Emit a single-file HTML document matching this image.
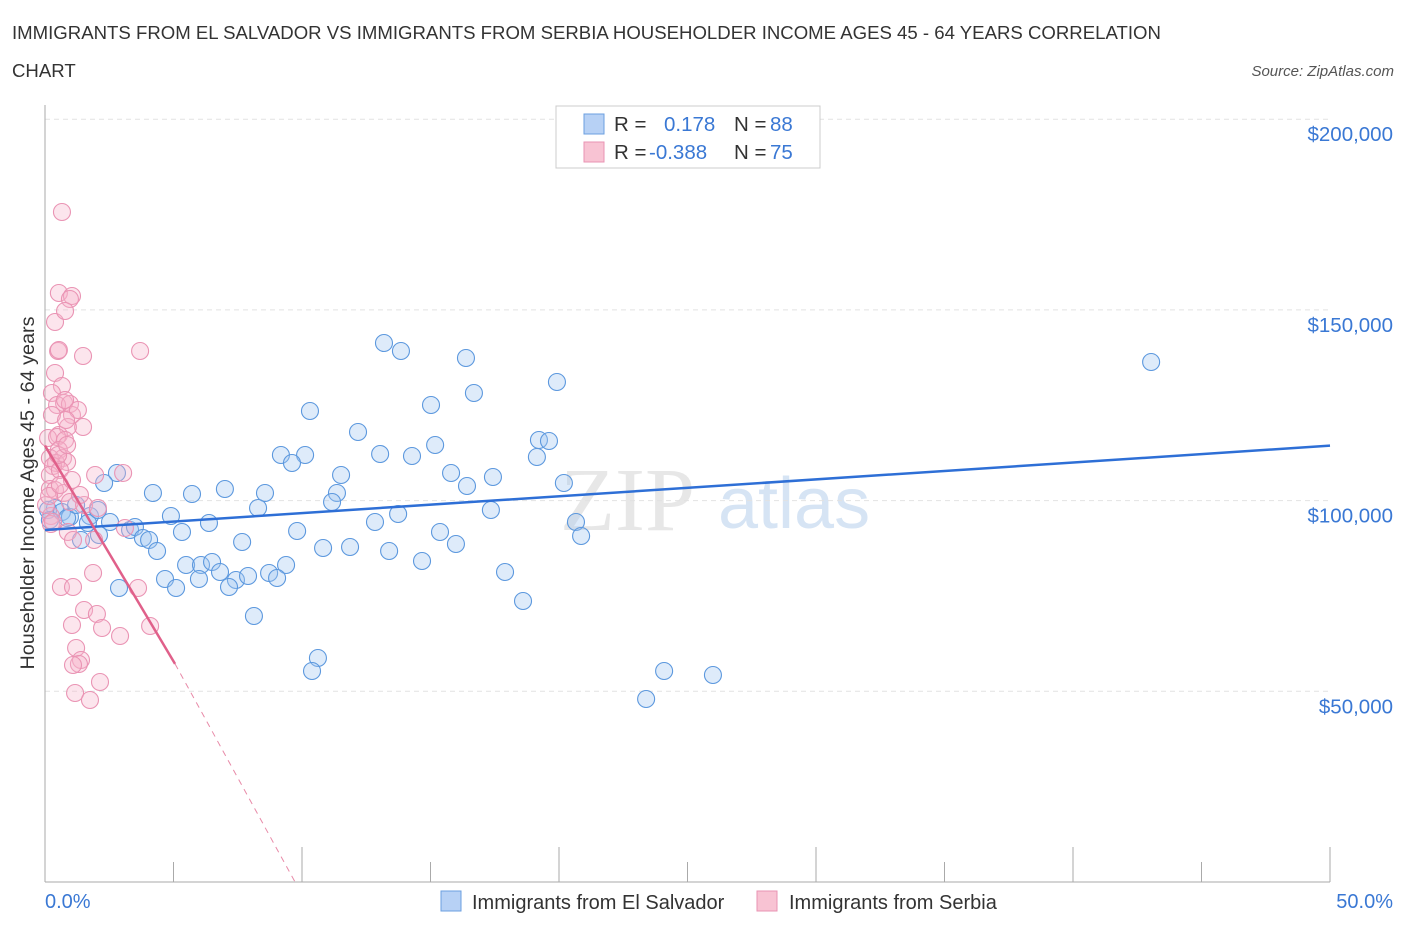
<!DOCTYPE html>
<html><head><meta charset="utf-8"><style>
body{margin:0;background:#fff;font-family:"Liberation Sans",sans-serif}
svg{display:block}
</style></head><body>
<svg id="c" width="1406" height="930" xmlns="http://www.w3.org/2000/svg">
<text x="12" y="39" font-size="18.6" fill="#333">IMMIGRANTS FROM EL SALVADOR VS IMMIGRANTS FROM SERBIA HOUSEHOLDER INCOME AGES 45 - 64 YEARS CORRELATION</text>
<text x="12" y="77" font-size="18.6" fill="#333">CHART</text>
<text x="1394" y="76" font-size="15" fill="#555" font-style="italic" text-anchor="end">Source: ZipAtlas.com</text>
<text x="560" y="530" font-size="90" fill="#d8d8d8" font-family="Liberation Serif" opacity="0.6">ZIP</text>
<text x="718" y="528" font-size="72" fill="#bcd3ee" opacity="0.6">atlas</text>
<g id="grid"></g>
<g id="axes"></g>
<g id="pts"></g>
<g id="trend"></g>
<text transform="translate(34,493) rotate(-90)" font-size="19.8" fill="#333" text-anchor="middle">Householder Income Ages 45 - 64 years</text>
<text x="45" y="908" font-size="20" fill="#3a78d4">0.0%</text>
<text x="1393" y="908" font-size="20" fill="#3a78d4" text-anchor="end">50.0%</text>
<g>
<rect x="556" y="106" width="264" height="62" fill="#fff" stroke="#ccc"/>
<rect x="584" y="114" width="20" height="20" fill="#b7d1f5" stroke="#6b9fe0"/>
<rect x="584" y="142" width="20" height="20" fill="#f8c3d3" stroke="#e993b3"/>
<text x="614" y="131" font-size="20.5" fill="#333">R =</text>
<text x="664" y="131" font-size="20.5" fill="#3a78d4">0.178</text>
<text x="734" y="131" font-size="20.5" fill="#333">N =</text>
<text x="770" y="131" font-size="20.5" fill="#3a78d4">88</text>
<text x="614" y="159" font-size="20.5" fill="#333">R =</text>
<text x="649" y="159" font-size="20.5" fill="#3a78d4">-0.388</text>
<text x="734" y="159" font-size="20.5" fill="#333">N =</text>
<text x="770" y="159" font-size="20.5" fill="#3a78d4">75</text>
</g>
<g>
<rect x="441" y="891" width="20" height="20" fill="#b7d1f5" stroke="#6b9fe0"/>
<text x="472" y="909" font-size="20" fill="#333">Immigrants from El Salvador</text>
<rect x="757" y="891" width="20" height="20" fill="#f8c3d3" stroke="#e993b3"/>
<text x="789" y="909" font-size="20" fill="#333">Immigrants from Serbia</text>
</g>
</svg>
<script>
const yTicks=[50000,100000,150000,200000];
const yTickLabels=["$50,000","$100,000","$150,000","$200,000"];
const xTicks=[0,5,10,15,20,25,30,35,40,45,50];
const bluePx=[[1151,362],[384,343],[401,351],[466,358],[557,382],[474,393],[431,405],[310,411],[358,432],[539,440],[549,441],[435,445],[281,455],[305,455],[380,454],[412,456],[292,463],[537,457],[451,473],[341,475],[493,477],[467,486],[117,473],[564,483],[104,483],[225,489],[265,493],[153,493],[192,494],[337,493],[332,502],[258,508],[398,514],[491,510],[55,508],[48,510],[62,512],[70,517],[90,516],[88,523],[110,522],[67,518],[375,522],[171,516],[209,523],[576,522],[130,530],[135,527],[297,531],[440,532],[581,536],[99,535],[143,538],[149,540],[81,540],[182,532],[242,542],[323,548],[350,547],[389,551],[456,544],[157,551],[186,565],[201,565],[212,562],[220,572],[286,565],[165,579],[176,588],[199,579],[236,580],[248,576],[269,573],[277,578],[229,587],[422,561],[505,572],[119,588],[523,601],[254,616],[318,658],[312,671],[664,671],[713,675],[646,699],[98,510],[76,505],[50,520]];
const pinkPx=[[62,212],[59,293],[72,296],[70,299],[55,322],[65,311],[58,351],[59,350],[83,356],[140,351],[55,373],[62,386],[52,393],[64,403],[57,405],[70,404],[72,415],[52,415],[83,427],[68,427],[59,435],[48,438],[57,437],[65,440],[59,450],[63,458],[50,458],[56,463],[67,462],[53,466],[123,473],[95,475],[50,475],[50,489],[55,490],[64,493],[70,502],[84,505],[98,508],[51,516],[51,524],[68,532],[53,522],[73,540],[125,528],[94,540],[93,573],[61,587],[73,587],[138,588],[84,610],[97,614],[72,625],[102,628],[120,636],[150,626],[76,648],[81,660],[79,664],[73,665],[100,682],[75,693],[90,700],[65,400],[78,410],[66,420],[60,470],[46,505],[49,496],[80,495],[60,485],[72,480],[58,455],[67,445]];
const blueX=bluePx.map(p=>+((p[0]-45)/1285*50).toFixed(2));
const blueY=bluePx.map(p=>Math.round((882-p[1])/190.7*50000));
const pinkX=pinkPx.map(p=>+((p[0]-45)/1285*50).toFixed(2));
const pinkY=pinkPx.map(p=>Math.round((882-p[1])/190.7*50000));
const blueTrend=[[0,92300],[50,114400]];
const pinkTrendSolid=[[0,114400],[5.06,57200]];
const pinkTrendDash=[[5.06,57200],[9.73,0]];
const X=v=>45+v/50*1285, Y=v=>882-v/50000*190.7;
const NS="http://www.w3.org/2000/svg";
function mk(t,a,p){const e=document.createElementNS(NS,t);for(const k in a)e.setAttribute(k,a[k]);p.appendChild(e);return e;}
const grid=document.getElementById('grid'),axes=document.getElementById('axes'),pts=document.getElementById('pts'),tr=document.getElementById('trend');
yTicks.forEach((v,i)=>{
 const l=mk('line',{x1:45,x2:1330,y1:Y(v),y2:Y(v),stroke:'#e2e2e2','stroke-dasharray':'5,4'},grid);
 
 
 const t=mk('text',{x:1393,y:Y(v)+22,'font-size':20.5,fill:'#3a78d4','text-anchor':'end'},grid);
 t.textContent=yTickLabels[i];
 
 
});
const ax=mk('line',{x1:45,x2:1330,y1:882,y2:882,stroke:'#aaa'},axes);


const ay=mk('line',{x1:45,x2:45,y1:105,y2:882,stroke:'#aaa'},axes);


xTicks.forEach(v=>{
 const t=mk('line',{x1:X(v),x2:X(v),y1:882,y2:v==0?882:(v%10==0?847:862),stroke:'#aaa'},axes);
 
 
});
blueX.forEach((x,i)=>{
 const c=mk('circle',{cx:X(x),cy:Y(blueY[i]),r:8.5,fill:'rgba(160,198,242,0.35)',stroke:'#5c98de','stroke-width':1.1},pts);
 
 
});
pinkX.forEach((x,i)=>{
 const c=mk('circle',{cx:X(x),cy:Y(pinkY[i]),r:8.5,fill:'rgba(246,180,202,0.35)',stroke:'#ea94b4','stroke-width':1.1},pts);
 
 
});
const b=mk('line',{x1:X(blueTrend[0][0]),y1:Y(blueTrend[0][1]),x2:X(blueTrend[1][0]),y2:Y(blueTrend[1][1]),stroke:'#2e6fd6','stroke-width':2.5},tr);


const p1=mk('line',{x1:X(pinkTrendSolid[0][0]),y1:Y(pinkTrendSolid[0][1]),x2:X(pinkTrendSolid[1][0]),y2:Y(pinkTrendSolid[1][1]),stroke:'#e0608a','stroke-width':2.5},tr);


const p2=mk('line',{x1:X(pinkTrendDash[0][0]),y1:Y(pinkTrendDash[0][1]),x2:X(pinkTrendDash[1][0]),y2:Y(pinkTrendDash[1][1]),stroke:'#e88aa8','stroke-width':1,'stroke-dasharray':'6,5'},tr);


</script>
</body></html>
